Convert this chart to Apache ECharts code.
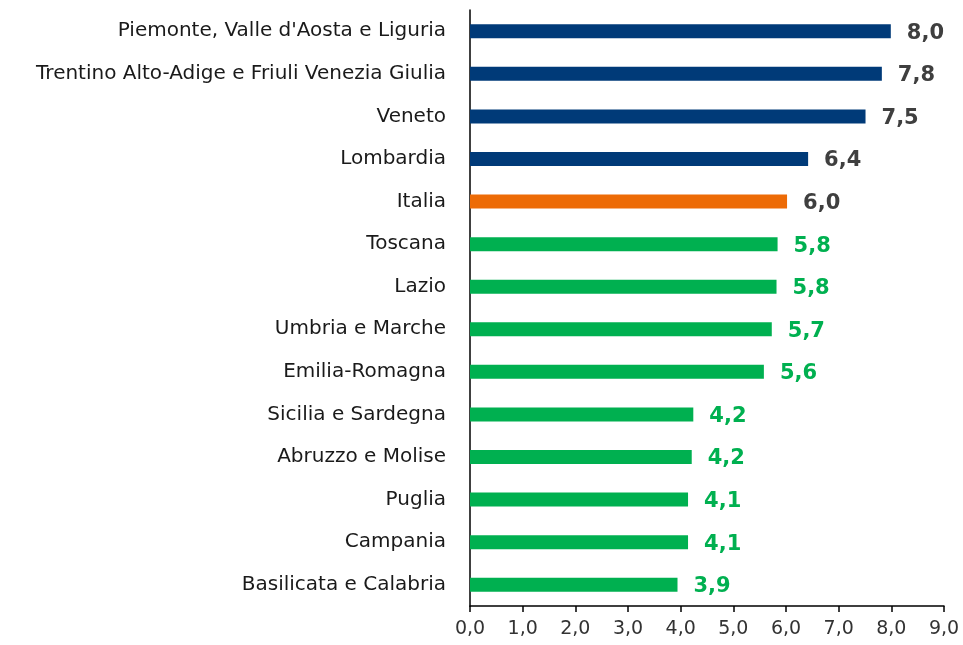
<!DOCTYPE html>
<html>
<head>
<meta charset="utf-8">
<script src="https://cdn.jsdelivr.net/npm/echarts@6/dist/echarts.min.js"></script>
<style>
  html, body { margin: 0; padding: 0; background: #fff; }
  #chart { width: 963px; height: 645px; }
</style>
</head>
<body>
<div id="chart"></div>
<script>
// regioni, dall'alto verso il basso
var regioni = [
    'Piemonte, Valle d\'Aosta e Liguria',
    'Trentino Alto-Adige e Friuli Venezia Giulia',
    'Veneto',
    'Lombardia',
    'Italia',
    'Toscana',
    'Lazio',
    'Umbria e Marche',
    'Emilia-Romagna',
    'Sicilia e Sardegna',
    'Abruzzo e Molise',
    'Puglia',
    'Campania',
    'Basilicata e Calabria'
];
var valori = [7.99, 7.82, 7.51, 6.42, 6.02, 5.84, 5.82, 5.73, 5.58, 4.24, 4.21, 4.14, 4.14, 3.94];
var tickValori = [0, 1, 2, 3, 4, 5, 6, 7, 8, 9];

(function() {
    var myChart = echarts.init(document.getElementById('chart'));
    var iItalia = regioni.indexOf('Italia');
    var vItalia = valori[iItalia];

    // colore: Italia arancio, sopra la media blu, sotto verde
    var dati = valori.map(function(v, i) {
        var col, lab;
        if (i === iItalia) { col = '#ED6B06'; lab = '#3F3F3F'; }
        else if (v > vItalia) { col = '#003A78'; lab = '#3F3F3F'; }
        else { col = '#00B050'; lab = '#00B050'; }
        return {
            value: v,
            itemStyle: { color: col },
            label: { color: lab }
        };
    });

    var option = {
        animation: false,
        grid: {
            left: 470,
            right: 19,
            top: 10,
            bottom: 39,
            containLabel: false
        },
        xAxis: {
            type: 'value',
            min: tickValori[0],
            max: tickValori[tickValori.length - 1],
            interval: 1,
            splitLine: { show: false },
            axisLine: { show: true, lineStyle: { color: '#000', width: 1.5 } },
            axisTick: { show: true, length: 6, lineStyle: { color: '#000', width: 1.5 } },
            axisLabel: {
                color: '#333',
                fontFamily: 'DejaVu Sans',
                fontSize: 19,
                margin: 14,
                formatter: function(v) { return v.toFixed(1).replace('.', ','); }
            }
        },
        yAxis: {
            type: 'category',
            inverse: true,
            data: regioni,
            axisLine: { show: true, lineStyle: { color: '#000', width: 1.5 } },
            axisTick: { show: false },
            axisLabel: {
                color: '#1a1a1a',
                fontFamily: 'DejaVu Sans',
                fontSize: 20,
                margin: 24
            }
        },
        series: [{
            type: 'bar',
            data: dati,
            barWidth: 14,
            label: {
                show: true,
                position: 'right',
                distance: 16,
                offset: [0, 2],
                fontFamily: 'DejaVu Sans',
                fontWeight: 'bold',
                fontSize: 21,
                formatter: function(p) { return p.value.toFixed(1).replace('.', ','); }
            }
        }]
    };
    myChart.setOption(option);
})();
</script>
</body>
</html>
